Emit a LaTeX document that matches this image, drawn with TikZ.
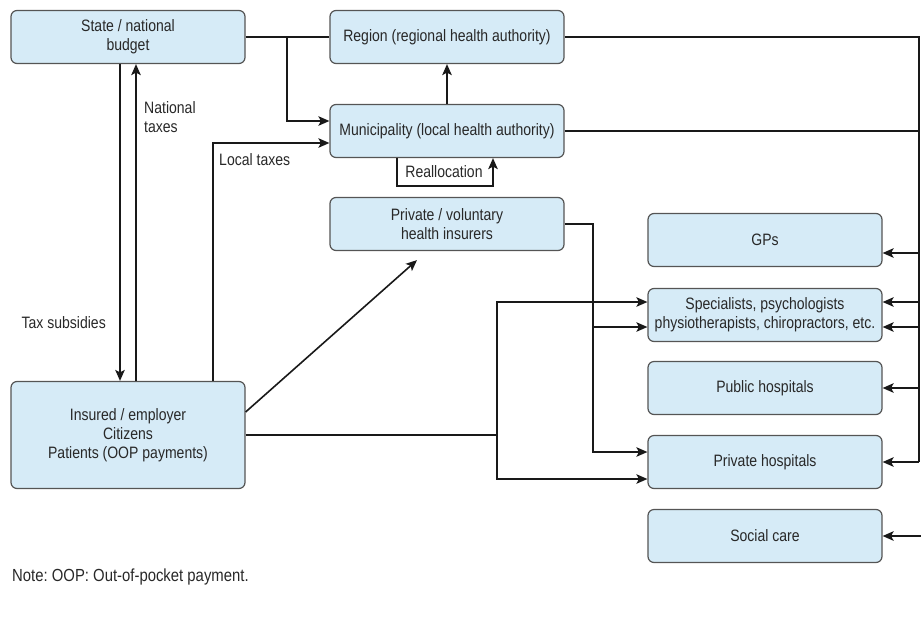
\documentclass[tikz,border=0pt]{standalone}
\usepackage{fontspec}
\setmainfont{Liberation Sans}[FakeStretch=0.85]
\usetikzlibrary{arrows.meta}
\definecolor{boxfill}{RGB}{214,235,247}
\definecolor{boxline}{RGB}{85,85,85}
\definecolor{ink}{RGB}{25,25,25}
\definecolor{txt}{RGB}{40,40,40}
\frenchspacing
\begin{document}
\begin{tikzpicture}[x=1pt,y=-1pt,
  every node/.style={font=\fontsize{16.5}{19}\selectfont, text=txt},
  actor/.style={draw=boxline, line width=1.2pt, fill=boxfill, rounded corners=6pt,
    minimum width=234pt, minimum height=53pt, inner sep=2pt, align=center},
  link/.style={draw=ink, line width=1.6pt},
  arr/.style={link, -{Stealth[length=11pt,width=9.5pt,inset=2.5pt]}},
  lbl/.style={inner sep=0pt, align=left}]
\useasboundingbox (0,0) rectangle (921,619);

% payers and purchasers
\node[actor] (state)  at (128,37)  {State / national\\budget};
\node[actor] (region) at (447,37)  {Region (regional health authority)};
\node[actor] (muni)   at (447,131) {Municipality (local health authority)};
\node[actor] (pvi)    at (447,224) {Private / voluntary\\health insurers};
\node[actor, minimum height=107pt] (ins) at (128,435)
  {Insured / employer\\Citizens\\Patients (OOP payments)};

% providers
\node[actor] (gps)    at (765,240) {GPs};
\node[actor] (spec)   at (765,315) {Specialists, psychologists\\physiotherapists, chiropractors, etc.};
\node[actor] (pub)    at (765,388) {Public hospitals};
\node[actor] (priv)   at (765,462) {Private hospitals};
\node[actor] (social) at (765,536) {Social care};

% helper points for the routing
\coordinate (j1)   at (287,37);
\coordinate (vx)   at (593,0);
\coordinate (wx)   at (497,0);
\coordinate (rail) at (919,0);
\coordinate (edge) at (922,536);
\path ([yshift=13pt]spec.west)  coordinate (s1)
      ([yshift=-12pt]spec.west) coordinate (s2)
      ([yshift=10pt]priv.west)  coordinate (p1)
      ([yshift=-17pt]priv.west) coordinate (p2)
      ([yshift=-13pt]gps.east)  coordinate (g1)
      ([yshift=13pt]spec.east)  coordinate (e1)
      ([yshift=-12pt]spec.east) coordinate (e2);

% state budget flows
\draw[link] (state.east) -- (region.west);
\draw[arr] (j1) |- ([yshift=10pt]muni.west);
\draw[arr] ([xshift=-8pt]state.south) -- ([xshift=-8pt]ins.north);
\draw[arr] ([xshift=8pt]ins.north) -- ([xshift=8pt]state.south);
\draw[arr] ([xshift=85pt]ins.north) |- ([yshift=-12pt]muni.west);

% municipality
\draw[arr] (muni.north) -- (region.south);
\draw[arr] ([xshift=-50pt]muni.south) -- ++(0,28) -| ([xshift=46pt]muni.south);
\node[lbl] (realloc) at (444,171.5) {Reallocation};

% labels
\node[lbl, anchor=west] (ntax) at (144,117) {National\\taxes};
\node[lbl, anchor=east] (tsub) at (106,323) {Tax subsidies};
\node[lbl, anchor=west] (ltax) at (219,160) {Local taxes};

% citizens to insurers and providers
\draw[arr] ([yshift=23pt]ins.east) -- ([xshift=-30pt,yshift=-9pt]pvi.south);
\draw[link] (ins.east) -- (wx |- ins.east);
\draw[arr] (wx |- ins.east) |- (s1);
\draw[arr] (wx |- ins.east) |- (p2);

% private insurers to providers
\draw[arr] (pvi.east) -| (vx |- p1) -- (p1);
\draw[arr] (vx |- s2) -- (s2);

% public authorities to providers
\draw[link] (region.east) -| (rail |- priv.east);
\draw[link] (muni.east) -- (rail |- muni.east);
\draw[arr] (rail |- g1) -- (g1);
\draw[arr] (rail |- e1) -- (e1);
\draw[arr] (rail |- e2) -- (e2);
\draw[arr] (rail |- pub.east) -- (pub.east);
\draw[arr] (rail |- priv.east) -- (priv.east);
\draw[arr] (edge) -- (social.east);

\node[lbl, anchor=west, font=\fontsize{17.5}{20}\selectfont] (note) at (12,577)
  {Note: OOP: Out-of-pocket payment.};
\end{tikzpicture}
\end{document}
